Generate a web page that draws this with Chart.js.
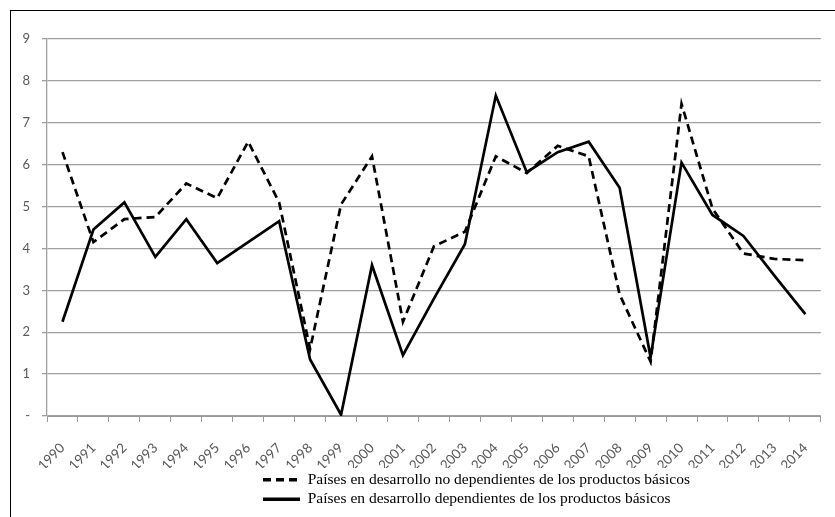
<!DOCTYPE html>
<html>
<head>
<meta charset="utf-8">
<script src="https://cdn.jsdelivr.net/npm/chart.js@4.4.1/dist/chart.umd.min.js"></script>
<style>
  html, body { margin: 0; padding: 0; background: #fff; }
  #marco { position: absolute; left: 10px; top: 10px; width: 824px; height: 506px;
           border-left: 1px solid #000; border-top: 1px solid #000; }
  canvas { display: block; }
</style>
</head>
<body>
<div id="marco"><canvas id="grafico" width="824" height="506"></canvas></div>
<script>
// Años (eje x)
const anios = ['1990', '1991', '1992', '1993', '1994', '1995', '1996', '1997', '1998', '1999',
  '2000', '2001', '2002', '2003', '2004', '2005', '2006', '2007', '2008', '2009',
  '2010', '2011', '2012', '2013', '2014'];

// Países no dependientes de los productos básicos (línea discontinua)
const noDependientes = [6.3, 4.15, 4.7, 4.75, 5.55, 5.2, 6.55, 5.1, 1.6, 5.05,
  6.2, 2.25, 4.05, 4.4, 6.2, 5.8, 6.45, 6.2, 2.9, 1.3,
  7.45, 4.95, 3.88, 3.75, 3.72];

// Países dependientes de los productos básicos (línea continua)
const dependientes = [2.25, 4.45, 5.1, 3.8, 4.7, 3.65, 4.15, 4.65, 1.35, 0.03,
  3.6, 1.45, 2.8, 4.1, 7.65, 5.82, 6.3, 6.55, 5.45, 1.4,
  6.05, 4.8, 4.3, 3.35, 2.43];

// Etiquetas del eje y
const etiquetasY = ['-', '1', '2', '3', '4', '5', '6', '7', '8', '9'];

const nombres = [
  'Países en desarrollo no dependientes de los productos básicos',
  'Países en desarrollo dependientes de los productos básicos'
];

const fuenteEje = { family: 'Lato', size: 13 };

// corre la leyenda hacia la derecha, las dos filas alineadas a la izquierda
const moverLeyenda = {
  id: 'moverLeyenda',
  afterLayout(chart) {
    const ley = chart.legend;
    ley.left = 248;
    ley.width = ley.right - ley.left;
  }
};

const config = {
  type: 'line',
  data: {
    labels: anios,
    datasets: [
      {
        label: nombres[0],
        data: noDependientes,
        borderColor: '#000',
        backgroundColor: '#000',
        borderWidth: 2.7,
        borderDash: [8, 5],
        pointRadius: 0,
        tension: 0
      },
      {
        label: nombres[1],
        data: dependientes,
        borderColor: '#000',
        backgroundColor: '#000',
        borderWidth: 2.7,
        pointRadius: 0,
        tension: 0
      }
    ]
  },
  options: {
    responsive: false,
    animation: false,
    layout: { padding: { top: 28, right: 10, left: 0, bottom: 0 } },
    plugins: {
      tooltip: { enabled: false },
      legend: {
        position: 'bottom',
        align: 'start',
        labels: {
          usePointStyle: true,
          pointStyle: 'line',
          pointStyleWidth: 37,
          boxHeight: 15,
          padding: 4,
          color: '#000',
          font: { family: 'Liberation Serif', size: 15.5 },
          // la muestra de línea toma el trazo de cada serie
          generateLabels: chart => chart.data.datasets.map((ds, i) => ({
            text: ds.label,
            datasetIndex: i,
            strokeStyle: '#000',
            fillStyle: '#000',
            fontColor: '#000',
            lineWidth: 3.5,
            lineDash: ds.borderDash || [],
            pointStyle: 'line',
            hidden: false
          }))
        }
      }
    },
    scales: {
      x: {
        offset: true,
        grid: { offset: true, drawOnChartArea: false, color: '#999', tickLength: 6 },
        border: { color: '#999', width: 1 },
        ticks: { color: '#595959', font: { family: 'Lato', size: 13.5 }, minRotation: 45, maxRotation: 45, padding: 18 },
        afterFit: s => { s.height = 52; }
      },
      y: {
        min: 0,
        max: 9,
        grid: { color: '#a0a0a0', lineWidth: 1.3, tickLength: 5 },
        border: { color: '#a0a0a0', width: 1.3 },
        ticks: {
          stepSize: 1,
          padding: 12,
          color: '#595959',
          font: fuenteEje,
          callback: v => etiquetasY[v]
        },
        afterFit: s => { s.width = 36; }
      }
    }
  },
  plugins: [moverLeyenda]
};

new Chart(document.getElementById('grafico'), config);
</script>
</body>
</html>
